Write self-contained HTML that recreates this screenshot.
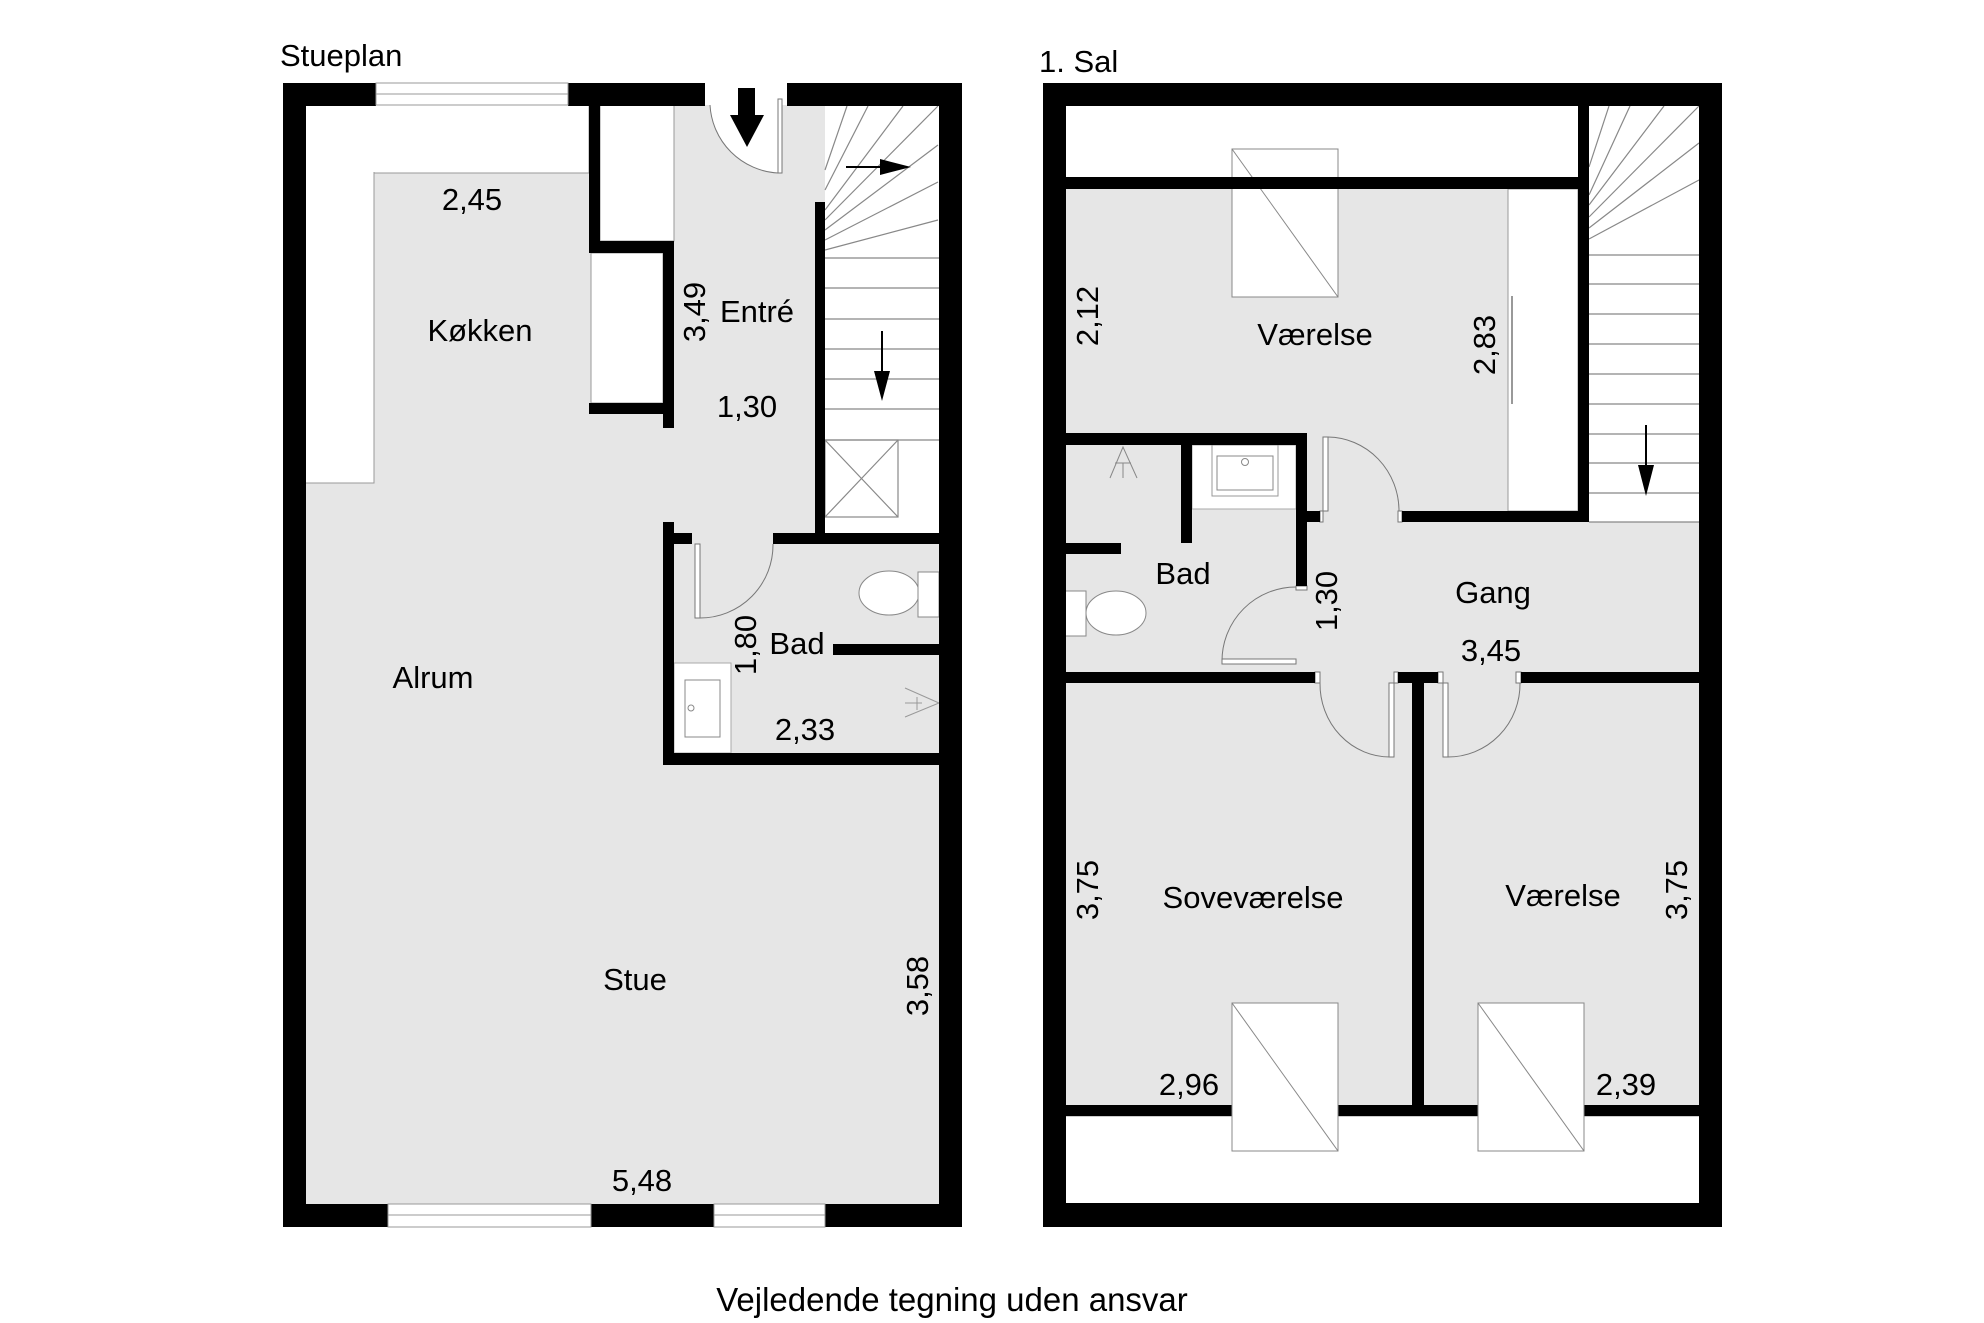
<!DOCTYPE html>
<html><head><meta charset="utf-8"><style>
html,body{margin:0;padding:0;background:#fff;}
svg{display:block;}
text{font-family:"Liberation Sans",Arial,sans-serif;fill:#000;}
</style></head><body>
<svg width="1984" height="1323" viewBox="0 0 1984 1323" xmlns="http://www.w3.org/2000/svg">
<rect width="1984" height="1323" fill="#fff"/>

<!-- ================= LEFT PLAN (Stueplan) ================= -->
<rect x="305" y="105" width="635" height="1101" fill="#e6e6e6"/>
<rect x="305" y="105" width="284" height="68" fill="#fff" stroke="#999" stroke-width="1"/>
<rect x="305" y="105" width="69" height="378" fill="#fff" stroke="#999" stroke-width="1"/>
<rect x="306" y="106" width="282" height="66" fill="#fff"/>
<rect x="600" y="105" width="74" height="136" fill="#fff" stroke="#999" stroke-width="1"/>
<rect x="591" y="253" width="72" height="150" fill="#fff" stroke="#999" stroke-width="1"/>
<path d="M710 105 L778 105 L778 173 A72 72 0 0 1 710 105 Z" fill="#fff"/>
<rect x="825" y="105" width="115" height="429" fill="#fff"/>
<g stroke="#888" stroke-width="1.2" fill="none">
<line x1="825" y1="170" x2="847" y2="106"/>
<line x1="825" y1="190" x2="868" y2="106"/>
<line x1="825" y1="210" x2="903" y2="106"/>
<line x1="825" y1="220" x2="938" y2="106"/>
<line x1="825" y1="230" x2="938" y2="145"/>
<line x1="825" y1="240" x2="938" y2="182"/>
<line x1="825" y1="250" x2="938" y2="220"/>
<line x1="825" y1="258" x2="940" y2="258"/>
<line x1="825" y1="288" x2="940" y2="288"/>
<line x1="825" y1="319" x2="940" y2="319"/>
<line x1="825" y1="349" x2="940" y2="349"/>
<line x1="825" y1="379" x2="940" y2="379"/>
<line x1="825" y1="409" x2="940" y2="409"/>
<line x1="825" y1="440" x2="940" y2="440"/>
<rect x="825" y="440" width="73" height="77"/>
<line x1="825" y1="440" x2="898" y2="517"/>
<line x1="898" y1="440" x2="825" y2="517"/>
</g>
<line x1="846" y1="167" x2="884" y2="167" stroke="#000" stroke-width="2"/>
<polygon points="880,159 911,167 880,175" fill="#000"/>
<line x1="882" y1="331" x2="882" y2="375" stroke="#000" stroke-width="2"/>
<polygon points="874,371 882,401 890,371" fill="#000"/>
<rect x="738" y="88" width="17" height="28" fill="#000"/>
<polygon points="730,115 764,115 747,147" fill="#000"/>
<rect x="778" y="99" width="4" height="74" fill="#fff" stroke="#777" stroke-width="1"/>
<path d="M710 105 A72 72 0 0 0 778 173" fill="none" stroke="#777" stroke-width="1"/>

<ellipse cx="889" cy="593" rx="30" ry="22" fill="#fff" stroke="#888" stroke-width="1"/>
<rect x="918" y="572" width="21" height="45" fill="#fff" stroke="#888" stroke-width="1"/>
<rect x="674" y="663" width="57" height="90" fill="#fff" stroke="#aaa" stroke-width="1"/>
<rect x="685" y="680" width="35" height="57" fill="#fff" stroke="#888" stroke-width="1"/>
<circle cx="691" cy="708" r="3" fill="none" stroke="#888" stroke-width="1"/>
<g stroke="#999" stroke-width="1" fill="none">
<polyline points="905,688 939,703 905,717"/>
<line x1="905" y1="703" x2="922" y2="703"/>
<line x1="917" y1="697" x2="917" y2="710"/>
</g>
<rect x="695" y="544" width="5" height="74" fill="#fff" stroke="#777" stroke-width="1"/>
<path d="M700 618 A73 73 0 0 0 773 544" fill="none" stroke="#777" stroke-width="1"/>

<g fill="#000">
<rect x="283" y="83" width="23" height="1144"/>
<rect x="939" y="83" width="23" height="1144"/>
<rect x="283" y="83" width="93" height="23"/>
<rect x="568" y="83" width="137" height="23"/>
<rect x="787" y="83" width="175" height="23"/>
<rect x="283" y="1204" width="105" height="23"/>
<rect x="591" y="1204" width="123" height="23"/>
<rect x="825" y="1204" width="137" height="23"/>
<rect x="589" y="105" width="11" height="148"/>
<rect x="589" y="241" width="85" height="12"/>
<rect x="663" y="241" width="11" height="187"/>
<rect x="589" y="403" width="85" height="11"/>
<rect x="815" y="202" width="10" height="332"/>
<rect x="773" y="533" width="167" height="11"/>
<rect x="663" y="522" width="11" height="243"/>
<rect x="663" y="533" width="29" height="11"/>
<rect x="663" y="753" width="277" height="12"/>
<rect x="833" y="644" width="107" height="11"/>
</g>
<g fill="#fff" stroke="#999" stroke-width="1">
<rect x="376" y="83" width="192" height="22"/>
<line x1="376" y1="94" x2="568" y2="94"/>
<rect x="388" y="1204" width="203" height="23"/>
<line x1="388" y1="1215" x2="591" y2="1215"/>
<rect x="714" y="1204" width="111" height="23"/>
<line x1="714" y1="1215" x2="825" y2="1215"/>
</g>

<g font-size="31">
<text x="280" y="66">Stueplan</text>
<text x="472" y="210" text-anchor="middle">2,45</text>
<text x="480" y="341" text-anchor="middle">Køkken</text>
<text x="757" y="322" text-anchor="middle">Entré</text>
<text x="747" y="417" text-anchor="middle">1,30</text>
<text x="433" y="688" text-anchor="middle">Alrum</text>
<text x="797" y="654" text-anchor="middle">Bad</text>
<text x="805" y="740" text-anchor="middle">2,33</text>
<text x="635" y="990" text-anchor="middle">Stue</text>
<text x="642" y="1191" text-anchor="middle">5,48</text>
<text transform="translate(705,312) rotate(-90)" text-anchor="middle">3,49</text>
<text transform="translate(756,645) rotate(-90)" text-anchor="middle">1,80</text>
<text transform="translate(928,986) rotate(-90)" text-anchor="middle">3,58</text>
</g>

<!-- ================= RIGHT PLAN (1. Sal) ================= -->
<rect x="1065" y="105" width="635" height="1101" fill="#e6e6e6"/>
<rect x="1065" y="105" width="513" height="72" fill="#fff"/>
<rect x="1065" y="1116" width="635" height="90" fill="#fff" stroke="#999" stroke-width="1"/>
<rect x="1508" y="189" width="70" height="322" fill="#fff" stroke="#999" stroke-width="1"/>
<line x1="1512" y1="296" x2="1512" y2="404" stroke="#999" stroke-width="2"/>
<rect x="1192" y="445" width="104" height="64" fill="#fff" stroke="#aaa" stroke-width="1"/>
<rect x="1212" y="445" width="66" height="51" fill="#fff" stroke="#999" stroke-width="1"/>
<rect x="1217" y="456" width="56" height="34" fill="#fff" stroke="#888" stroke-width="1"/>
<circle cx="1245" cy="462" r="3.5" fill="none" stroke="#888" stroke-width="1"/>
<g stroke="#888" stroke-width="1" fill="none">
<polyline points="1110,478 1123,447 1137,478"/>
<line x1="1115" y1="463" x2="1131" y2="463"/>
<line x1="1123" y1="463" x2="1123" y2="478"/>
</g>
<ellipse cx="1116" cy="613" rx="30" ry="22" fill="#fff" stroke="#888" stroke-width="1"/>
<rect x="1065" y="591" width="21" height="45" fill="#fff" stroke="#888" stroke-width="1"/>
<rect x="1589" y="105" width="111" height="417" fill="#fff"/>
<g stroke="#888" stroke-width="1.2" fill="none">
<line x1="1589" y1="167" x2="1609" y2="106"/>
<line x1="1589" y1="195" x2="1630" y2="106"/>
<line x1="1589" y1="205" x2="1664" y2="106"/>
<line x1="1589" y1="217" x2="1699" y2="106"/>
<line x1="1589" y1="228" x2="1699" y2="143"/>
<line x1="1589" y1="239" x2="1699" y2="180"/>
<line x1="1589" y1="255" x2="1700" y2="255"/>
<line x1="1589" y1="284" x2="1700" y2="284"/>
<line x1="1589" y1="314" x2="1700" y2="314"/>
<line x1="1589" y1="344" x2="1700" y2="344"/>
<line x1="1589" y1="374" x2="1700" y2="374"/>
<line x1="1589" y1="404" x2="1700" y2="404"/>
<line x1="1589" y1="434" x2="1700" y2="434"/>
<line x1="1589" y1="463" x2="1700" y2="463"/>
<line x1="1589" y1="493" x2="1700" y2="493"/>
<line x1="1589" y1="522" x2="1700" y2="522"/>
</g>
<line x1="1646" y1="425" x2="1646" y2="468" stroke="#000" stroke-width="2"/>
<polygon points="1638,465 1646,496 1654,465" fill="#000"/>

<g fill="#fff" stroke="#888" stroke-width="1">
<rect x="1232" y="149" width="106" height="148"/>
<line x1="1232" y1="149" x2="1338" y2="297"/>
</g>

<g fill="#fff" stroke="#777" stroke-width="1">
<rect x="1323" y="437" width="5" height="74"/>
<rect x="1222" y="659" width="74" height="5"/>
<rect x="1389" y="683" width="5" height="74"/>
<rect x="1443" y="683" width="5" height="74"/>
<rect x="1296" y="586" width="11" height="4"/>
<rect x="1315" y="672" width="5" height="11"/>
<rect x="1394" y="672" width="4" height="11"/>
<rect x="1438" y="672" width="5" height="11"/>
<rect x="1516" y="672" width="5" height="11"/>
<rect x="1398" y="511" width="4" height="11"/>
<rect x="1320" y="511" width="3" height="11"/>
</g>
<g fill="none" stroke="#777" stroke-width="1">
<path d="M1328 437 A72 74 0 0 1 1399 511"/>
<path d="M1222 661 A74 74 0 0 1 1296 587"/>
<path d="M1320 683 A70 73 0 0 0 1390 757"/>
<path d="M1448 757 A72 73 0 0 0 1520 683"/>
</g>

<g fill="#000">
<rect x="1043" y="83" width="23" height="1144"/>
<rect x="1699" y="83" width="23" height="1144"/>
<rect x="1043" y="83" width="679" height="23"/>
<rect x="1043" y="1203" width="679" height="24"/>
<rect x="1065" y="177" width="524" height="12"/>
<rect x="1578" y="105" width="11" height="417"/>
<rect x="1402" y="511" width="187" height="11"/>
<rect x="1307" y="511" width="13" height="11"/>
<rect x="1065" y="433" width="242" height="12"/>
<rect x="1296" y="433" width="11" height="153"/>
<rect x="1181" y="445" width="11" height="98"/>
<rect x="1065" y="543" width="56" height="11"/>
<rect x="1065" y="672" width="250" height="11"/>
<rect x="1398" y="672" width="40" height="11"/>
<rect x="1412" y="672" width="12" height="433"/>
<rect x="1521" y="672" width="179" height="11"/>
<rect x="1065" y="1105" width="635" height="11"/>
</g>
<g fill="#fff" stroke="#888" stroke-width="1">
<rect x="1232" y="1003" width="106" height="148"/>
<line x1="1232" y1="1003" x2="1338" y2="1151"/>
<rect x="1478" y="1003" width="106" height="148"/>
<line x1="1478" y1="1003" x2="1584" y2="1151"/>
</g>

<g font-size="31">
<text x="1039" y="72">1. Sal</text>
<text x="1315" y="345" text-anchor="middle">Værelse</text>
<text x="1183" y="584" text-anchor="middle">Bad</text>
<text x="1493" y="603" text-anchor="middle">Gang</text>
<text x="1491" y="661" text-anchor="middle">3,45</text>
<text x="1253" y="908" text-anchor="middle">Soveværelse</text>
<text x="1563" y="906" text-anchor="middle">Værelse</text>
<text x="1189" y="1095" text-anchor="middle">2,96</text>
<text x="1626" y="1095" text-anchor="middle">2,39</text>
<text transform="translate(1098,316) rotate(-90)" text-anchor="middle">2,12</text>
<text transform="translate(1495,345) rotate(-90)" text-anchor="middle">2,83</text>
<text transform="translate(1337,601) rotate(-90)" text-anchor="middle">1,30</text>
<text transform="translate(1098,890) rotate(-90)" text-anchor="middle">3,75</text>
<text transform="translate(1687,890) rotate(-90)" text-anchor="middle">3,75</text>
</g>

<text x="952" y="1311" text-anchor="middle" font-size="33">Vejledende tegning uden ansvar</text>
</svg>
</body></html>
